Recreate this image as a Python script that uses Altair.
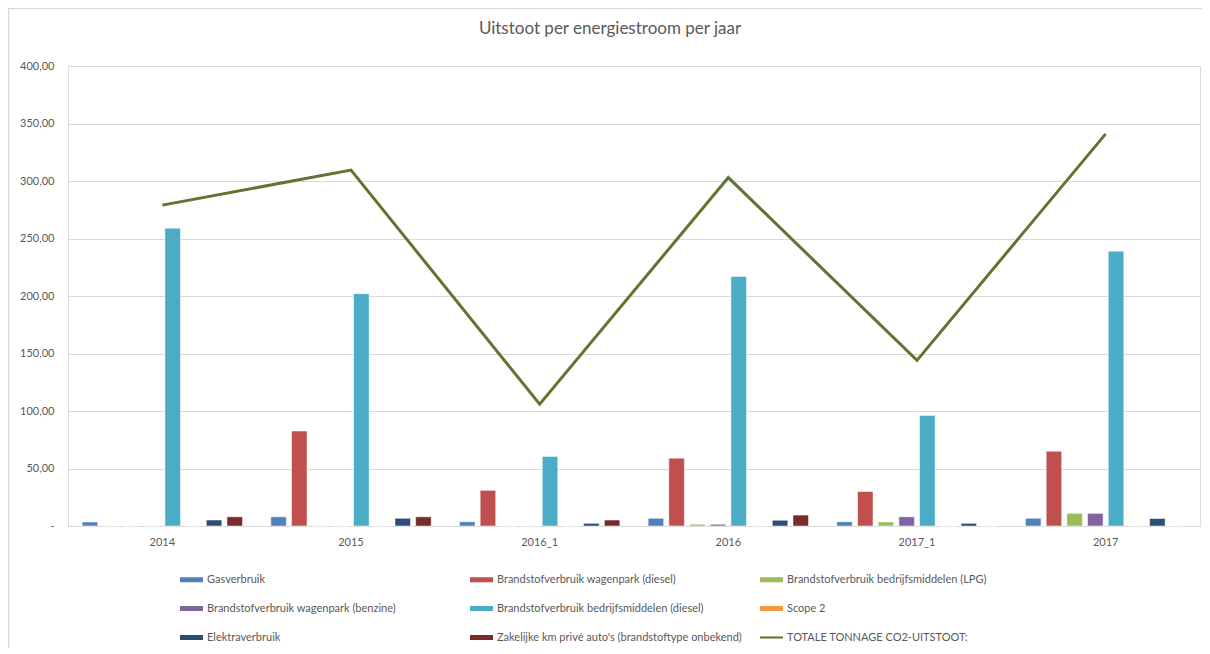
import altair as alt
import pandas as pd

years = ["2014", "2015", "2016_1", "2016", "2017_1", "2017"]
series = [
    "Gasverbruik",
    "Brandstofverbruik wagenpark (diesel)",
    "Brandstofverbruik bedrijfsmiddelen (LPG)",
    "Brandstofverbruik wagenpark (benzine)",
    "Brandstofverbruik bedrijfsmiddelen (diesel)",
    "Scope 2",
    "Elektraverbruik",
    "Zakelijke km privé auto's (brandstoftype onbekend)",
]
line_name = "TOTALE TONNAGE CO2-UITSTOOT:"

gasverbruik = [3.5, 8.0, 3.7, 6.7, 3.7, 6.7]
wagenpark_diesel = [0, 82.6, 31.0, 59.0, 30.0, 65.0]
bedrijf_lpg = [0, 0, 0, 1.5, 3.5, 11.0]
wagenpark_benzine = [0, 0, 0, 1.5, 8.0, 11.0]
bedrijf_diesel = [259.0, 202.0, 60.5, 217.0, 96.0, 239.0]
scope2 = [0, 0, 0, 0, 0, 0]
elektra = [5.2, 6.7, 2.3, 5.0, 2.3, 6.5]
zakelijk = [8.0, 8.0, 5.2, 9.5, 0, 0]
totaal = [279.0, 309.5, 106.0, 303.0, 144.0, 341.0]

colors = ["#4F81BD", "#C0504D", "#9BBB59", "#8064A2", "#4BACC6", "#F79646", "#2C4D75", "#772C2A"]
line_color = "#5F7530"

values = [gasverbruik, wagenpark_diesel, bedrijf_lpg, wagenpark_benzine,
          bedrijf_diesel, scope2, elektra, zakelijk]
rows = []
for s, vals in zip(series, values):
    for y, v in zip(years, vals):
        rows.append({"jaar": y, "serie": s, "waarde": v})
bars_df = pd.DataFrame(rows)
line_df = pd.DataFrame({"jaar": years, "serie": [line_name] * len(years), "waarde": totaal})

FONT = "Lato"
GREY = "#595959"

color_scale = alt.Scale(domain=series + [line_name], range=colors + [line_color])
shape_expr = ("datum && datum.value === 'TOTALE TONNAGE CO2-UITSTOOT:' ? "
              "'M-1,-0.09H1V0.09H-1Z' : 'M-1,-0.22H1V0.22H-1Z'")
legend = alt.Legend(
    title=None, orient="none", legendX=112, legendY=502, columns=3, direction="horizontal",
    gridAlign="all", columnPadding=18, rowPadding=12,
    symbolType={"expr": shape_expr}, symbolSize=529, symbolStrokeWidth=0,
    labelFont=FONT, labelFontSize=11, labelColor=GREY, labelOffset=4, labelLimit=400,
)

x_enc = alt.X("jaar:N", sort=years, title=None,
              scale=alt.Scale(paddingInner=0.15, paddingOuter=0.075),
              axis=alt.Axis(labelAngle=0, ticks=False, domainColor="#D9D9D9", labelPadding=10,
                            labelFont=FONT, labelFontSize=11, labelColor=GREY))
y_enc = alt.Y("waarde:Q", title=None, scale=alt.Scale(domain=[0, 400]),
              axis=alt.Axis(values=[0, 50, 100, 150, 200, 250, 300, 350, 400], domain=False, ticks=False,
                            gridColor="#D9D9D9", labelPadding=14, labelFont=FONT, labelFontSize=11,
                            labelColor=GREY,
                            labelExpr="datum.value == 0 ? '-' : replace(format(datum.value, '.2f'), '.', ',')"))

bars = alt.Chart(bars_df).mark_bar(stroke="white", strokeWidth=0.5).encode(
    x=x_enc,
    y=y_enc,
    xOffset=alt.XOffset("serie:N", sort=series, scale=alt.Scale(domain=series, paddingInner=0.25)),
    color=alt.Color("serie:N", scale=color_scale, legend=legend),
)

line = alt.Chart(line_df).mark_line(strokeWidth=3).encode(
    x=alt.X("jaar:N", sort=years),
    y=alt.Y("waarde:Q"),
    color=alt.Color("serie:N", scale=color_scale, legend=legend),
)

# light frame around the whole chart area
frame = alt.Chart(alt.Data(values=[{"frame": 1}])).mark_rect(
    fill=None, stroke="#D9D9D9", strokeWidth=1.5
).encode(x=alt.value(-59.5), x2=alt.value(1250), y=alt.value(-57.5), y2=alt.value(700))

chart = alt.layer(frame, bars, line).properties(
    width=1132, height=460,
    title=alt.TitleParams("Uitstoot per energiestroom per jaar", font=FONT, fontSize=17,
                          fontWeight="normal", color=GREY, anchor="middle", frame="group",
                          offset=-30, dx=-24),
    autosize=alt.AutoSizeParams(type="none"),
    padding={"left": 60, "top": 58, "right": 2, "bottom": 122},
).configure_view(stroke=None).configure(font=FONT)

chart.save("out.html", embed_options={"renderer": "svg", "actions": False})
